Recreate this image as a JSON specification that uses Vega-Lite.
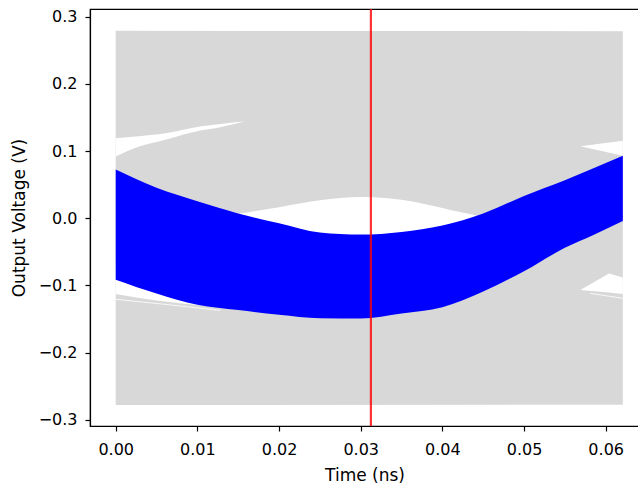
{
  "$schema": "https://vega.github.io/schema/vega-lite/v6.json",
  "width": 549,
  "height": 417,
  "autosize": {"type": "none"},
  "padding": {"left": 90, "top": 9, "right": 0, "bottom": 65},
  "background": "white",
  "config": {
    "view": {"stroke": "#000", "strokeWidth": 1.2},
    "font": "DejaVu Sans",
    "axis": {
      "labelFont": "DejaVu Sans", "labelFontSize": 16, "labelColor": "#000",
      "titleFont": "DejaVu Sans", "titleFontSize": 17, "titleFontWeight": "normal", "titleColor": "#000",
      "domainColor": "#000", "domainWidth": 1.2, "tickColor": "#000", "tickWidth": 1.2, "tickSize": 5,
      "grid": false, "labelOverlap": false, "labelFlush": false
    }
  },
  "datasets": {
    "gray": [{"x": 0, "hi": 0.279, "lo": -0.278}, {"x": 0.0621, "hi": 0.2785, "lo": -0.2775}],
    "ulSliver": [
      {"x": 0, "hi": 0.119, "lo": 0.092}, {"x": 0.0021, "hi": 0.1215, "lo": 0.1035},
      {"x": 0.0063, "hi": 0.127, "lo": 0.1175}, {"x": 0.0103, "hi": 0.1365, "lo": 0.1305},
      {"x": 0.0128, "hi": 0.1405, "lo": 0.1355}, {"x": 0.0158, "hi": 0.144, "lo": 0.144}
    ],
    "llGap": [
      {"x": 0, "hi": -0.06, "lo": -0.1126}, {"x": 0.005, "hi": -0.06, "lo": -0.1225},
      {"x": 0.0101, "hi": -0.06, "lo": -0.129}
    ],
    "llLine": [{"x": 0, "hi": -0.1205}, {"x": 0.006, "hi": -0.128}, {"x": 0.0128, "hi": -0.137}],
    "eye": [
      {"x": 0.015, "hi": 0.0068, "lo": -0.06}, {"x": 0.02, "hi": 0.0165, "lo": -0.06},
      {"x": 0.025, "hi": 0.0267, "lo": -0.06}, {"x": 0.03, "hi": 0.0316, "lo": -0.06},
      {"x": 0.036, "hi": 0.0256, "lo": -0.06}, {"x": 0.041, "hi": 0.0123, "lo": -0.06},
      {"x": 0.0442, "hi": 0.004, "lo": -0.06}
    ],
    "urNotch": [{"x": 0.0569, "hi": 0.1071, "lo": 0.1071}, {"x": 0.0621, "hi": 0.1156, "lo": 0.093}],
    "lrNotch": [
      {"x": 0.0569, "hi": -0.1067, "lo": -0.1067}, {"x": 0.0604, "hi": -0.082, "lo": -0.1103},
      {"x": 0.0621, "hi": -0.088, "lo": -0.1126}
    ],
    "lrLine": [{"x": 0.0581, "hi": -0.1117}, {"x": 0.0621, "hi": -0.1191}],
    "blue": [
      {"x": 0, "hi": 0.0726, "lo": -0.0914}, {"x": 0.005, "hi": 0.0455, "lo": -0.112},
      {"x": 0.01, "hi": 0.0255, "lo": -0.1287}, {"x": 0.015, "hi": 0.0073, "lo": -0.1366},
      {"x": 0.02, "hi": -0.0075, "lo": -0.1434}, {"x": 0.025, "hi": -0.0212, "lo": -0.1486},
      {"x": 0.03, "hi": -0.0242, "lo": -0.149}, {"x": 0.035, "hi": -0.0202, "lo": -0.1416},
      {"x": 0.04, "hi": -0.0107, "lo": -0.1324}, {"x": 0.045, "hi": 0.0073, "lo": -0.1089},
      {"x": 0.05, "hi": 0.0332, "lo": -0.0788}, {"x": 0.055, "hi": 0.0565, "lo": -0.044},
      {"x": 0.0585, "hi": 0.0745, "lo": -0.0248}, {"x": 0.0621, "hi": 0.093, "lo": -0.004}
    ],
    "marker": [{"x": 0.03125}]
  },
  "layer": [
    {
      "data": {"name": "gray"},
      "mark": {"type": "area", "color": "#d8d8d8", "interpolate": "linear"},
      "encoding": {
        "x": {"field": "x", "type": "quantitative", "scale": {"domain": [-0.003147, 0.06408], "nice": false, "zero": false},
          "axis": {"values": [0, 0.01, 0.02, 0.03, 0.04, 0.05, 0.06], "format": ".2f", "title": "Time (ns)", "labelPadding": 10, "titlePadding": 10}},
        "y": {"field": "hi", "type": "quantitative", "scale": {"domain": [-0.3091, 0.3115], "nice": false, "zero": false},
          "axis": {"values": [-0.3, -0.2, -0.1, 0, 0.1, 0.2, 0.3], "format": ".1f", "title": "Output Voltage (V)", "labelPadding": 8, "titlePadding": 10}},
        "y2": {"field": "lo"}
      }
    },
    {
      "data": {"name": "ulSliver"},
      "mark": {"type": "area", "color": "white", "interpolate": "monotone"},
      "encoding": {
        "x": {"field": "x", "type": "quantitative", "scale": {"domain": [-0.003147, 0.06408], "nice": false, "zero": false}},
        "y": {"field": "hi", "type": "quantitative", "scale": {"domain": [-0.3091, 0.3115], "nice": false, "zero": false}},
        "y2": {"field": "lo"}
      }
    },
    {
      "data": {"name": "llGap"},
      "mark": {"type": "area", "color": "white", "interpolate": "monotone"},
      "encoding": {
        "x": {"field": "x", "type": "quantitative", "scale": {"domain": [-0.003147, 0.06408], "nice": false, "zero": false}},
        "y": {"field": "hi", "type": "quantitative", "scale": {"domain": [-0.3091, 0.3115], "nice": false, "zero": false}},
        "y2": {"field": "lo"}
      }
    },
    {
      "data": {"name": "llLine"},
      "mark": {"type": "line", "color": "white", "strokeWidth": 1, "opacity": 0.8, "interpolate": "monotone"},
      "encoding": {
        "x": {"field": "x", "type": "quantitative", "scale": {"domain": [-0.003147, 0.06408], "nice": false, "zero": false}},
        "y": {"field": "hi", "type": "quantitative", "scale": {"domain": [-0.3091, 0.3115], "nice": false, "zero": false}}
      }
    },
    {
      "data": {"name": "eye"},
      "mark": {"type": "area", "color": "white", "interpolate": "monotone"},
      "encoding": {
        "x": {"field": "x", "type": "quantitative", "scale": {"domain": [-0.003147, 0.06408], "nice": false, "zero": false}},
        "y": {"field": "hi", "type": "quantitative", "scale": {"domain": [-0.3091, 0.3115], "nice": false, "zero": false}},
        "y2": {"field": "lo"}
      }
    },
    {
      "data": {"name": "urNotch"},
      "mark": {"type": "area", "color": "white", "interpolate": "linear"},
      "encoding": {
        "x": {"field": "x", "type": "quantitative", "scale": {"domain": [-0.003147, 0.06408], "nice": false, "zero": false}},
        "y": {"field": "hi", "type": "quantitative", "scale": {"domain": [-0.3091, 0.3115], "nice": false, "zero": false}},
        "y2": {"field": "lo"}
      }
    },
    {
      "data": {"name": "lrNotch"},
      "mark": {"type": "area", "color": "white", "interpolate": "linear"},
      "encoding": {
        "x": {"field": "x", "type": "quantitative", "scale": {"domain": [-0.003147, 0.06408], "nice": false, "zero": false}},
        "y": {"field": "hi", "type": "quantitative", "scale": {"domain": [-0.3091, 0.3115], "nice": false, "zero": false}},
        "y2": {"field": "lo"}
      }
    },
    {
      "data": {"name": "lrLine"},
      "mark": {"type": "line", "color": "white", "strokeWidth": 1, "opacity": 0.8},
      "encoding": {
        "x": {"field": "x", "type": "quantitative", "scale": {"domain": [-0.003147, 0.06408], "nice": false, "zero": false}},
        "y": {"field": "hi", "type": "quantitative", "scale": {"domain": [-0.3091, 0.3115], "nice": false, "zero": false}}
      }
    },
    {
      "data": {"name": "blue"},
      "mark": {"type": "area", "color": "#0000ff", "interpolate": "monotone"},
      "encoding": {
        "x": {"field": "x", "type": "quantitative", "scale": {"domain": [-0.003147, 0.06408], "nice": false, "zero": false}},
        "y": {"field": "hi", "type": "quantitative", "scale": {"domain": [-0.3091, 0.3115], "nice": false, "zero": false}},
        "y2": {"field": "lo"}
      }
    },
    {
      "data": {"name": "marker"},
      "mark": {"type": "rule", "color": "#ff0000", "opacity": 0.8, "strokeWidth": 2.2},
      "encoding": {
        "x": {"field": "x", "type": "quantitative", "scale": {"domain": [-0.003147, 0.06408], "nice": false, "zero": false}}
      }
    }
  ]
}
